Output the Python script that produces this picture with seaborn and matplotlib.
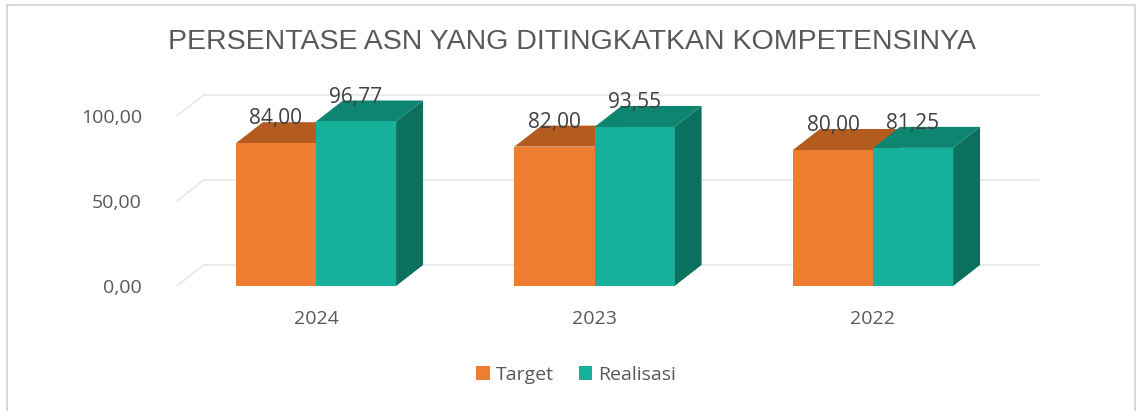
import matplotlib
matplotlib.use("Agg")
import matplotlib.pyplot as plt
from matplotlib.patches import Polygon, Patch, Rectangle
from matplotlib.ticker import FuncFormatter, FixedLocator
import pandas as pd
import seaborn as sns

# Data
years = ["2024", "2023", "2022"]
target = [84.00, 82.00, 80.00]
realisasi = [96.77, 93.55, 81.25]
series = ["Target", "Realisasi"]
yticks = [0, 50, 100]

title = "PERSENTASE ASN YANG DITINGKATKAN KOMPETENSINYA"

front = {"Target": "#ED7D31", "Realisasi": "#17B09A"}
top_col = {"Target": "#B45B20", "Realisasi": "#0E8570"}
side_col = {"Target": "#A9521C", "Realisasi": "#0C705E"}
grid_col = "#EBEBEB"
text_col = "#595959"

df = pd.DataFrame({
    "Tahun": years * 2,
    "Nilai": target + realisasi,
    "Seri": ["Target"] * 3 + ["Realisasi"] * 3,
})

sns.set_theme(style="white")
plt.rcParams["font.family"] = ["Open Sans", "DejaVu Sans"]

fig = plt.figure(figsize=(11.37, 4.11), dpi=100)
ax = fig.add_axes([176.75 / 1137, 125 / 411, 835.5 / 1137, 195.5 / 411])

sns.barplot(data=df, x="Tahun", y="Nilai", hue="Seri", order=years,
            hue_order=series, palette=front, width=0.575, legend=False,
            saturation=1, ax=ax, err_kws={"linewidth": 0})

ax.set_xlim(-0.5, 2.5)
ax.set_ylim(0, 115)

# depth of the pseudo 3D box
ddx = 27 / 278.5
ddy = 21 / 1.7

# back wall gridlines + left wall diagonals
for v in yticks:
    ax.plot([-0.5, -0.5 + ddx, 2.5 + ddx], [v, v + ddy, v + ddy],
            color=grid_col, lw=1.5, zorder=0.5, clip_on=False,
            solid_capstyle="butt")

n = len(years)
for i, p in enumerate(ax.patches):
    s = series[i // n]
    z = 2 if s == "Target" else 3
    p.set_edgecolor("none")
    p.set_zorder(z)
    x0, x1, h = p.get_x(), p.get_x() + p.get_width(), p.get_height()
    ax.add_patch(Polygon([(x1, 0), (x1 + ddx, ddy), (x1 + ddx, h + ddy), (x1, h)],
                         closed=True, facecolor=side_col[s], edgecolor="none",
                         zorder=z - 0.1, clip_on=False))
    ax.add_patch(Polygon([(x0, h), (x1, h), (x1 + ddx, h + ddy), (x0 + ddx, h + ddy)],
                         closed=True, facecolor=top_col[s], edgecolor="none",
                         zorder=z - 0.1, clip_on=False))
    ax.annotate(f"{h:.2f}".replace(".", ","), (x0 + p.get_width() / 2, h + ddy),
                xytext=(0, 2.5), textcoords="offset points", ha="center",
                va="center", fontsize=15, color="#404040", zorder=5,
                annotation_clip=False)

sns.despine(ax=ax, left=True, bottom=True)
ax.set_xlabel("")
ax.set_ylabel("")
ax.yaxis.set_major_locator(FixedLocator(yticks))
ax.yaxis.set_major_formatter(FuncFormatter(lambda v, _: f"{v:.2f}".replace(".", ",")))
ax.tick_params(axis="y", length=0, pad=25, labelsize=14, labelcolor=text_col)
ax.tick_params(axis="x", length=0, pad=17, labelsize=14, labelcolor=text_col)
ax.grid(False)

fig.text(572 / 1137, 1 - 42 / 411, title, ha="center", va="center",
         fontsize=20.5, color=text_col, family=["Liberation Sans", "DejaVu Sans"])

handles = [Patch(facecolor=front[s], edgecolor="none", label=s) for s in series]
fig.legend(handles=handles, loc="center", bbox_to_anchor=(576 / 1137, 1 - 375 / 411),
           ncol=2, frameon=False, fontsize=14, handlelength=0.7, handleheight=0.7,
           handletextpad=0.3, columnspacing=1.3, labelcolor=text_col)

fig.patches.append(Rectangle((7 / 1137, -0.05), 1128 / 1137, 1.05 - 5 / 411,
                             transform=fig.transFigure, fill=False,
                             edgecolor="#D9D9D9", lw=1.5))

fig.savefig("out.png", dpi=100)
